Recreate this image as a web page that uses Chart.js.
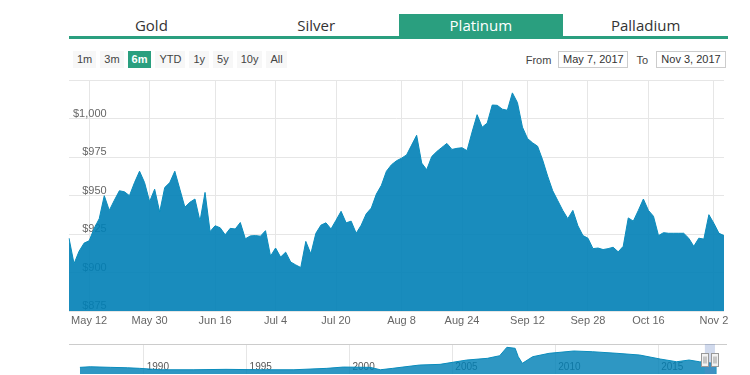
<!DOCTYPE html>
<html>
<head>
<meta charset="utf-8">
<script src="https://cdn.jsdelivr.net/npm/chart.js@4/dist/chart.umd.min.js"></script>
<style>
    body { margin: 0; width: 750px; height: 375px; background: #fff; position: relative; overflow: hidden; font-family: "Liberation Sans", Arial, sans-serif; }
    .tabs { position: absolute; left: 69px; top: 14px; width: 659px; height: 22px; border-bottom: 3px solid #2a9f7f; display: flex; }
    .tab { flex: 1; text-align: center; font: 15px "Open Sans", sans-serif; color: #333; line-height: 23px; }
    .tab.active { background: #2a9f7f; color: #fff; }
    .ranges { position: absolute; left: 73px; top: 51px; display: flex; gap: 4px; }
    .ranges span { display: block; height: 17px; line-height: 17px; padding: 0 4px; font-size: 11px; color: #444; background: #f7f7f7; }
    .ranges span.on { background: #2a9f7f; color: #fff; font-weight: bold; }
    .dates { position: absolute; right: 24px; top: 51px; display: flex; align-items: center; font-size: 11px; color: #444; }
    .dates .box { width: 68px; height: 15px; line-height: 15px; border: 1px solid #ccc; text-align: center; color: #333; }
    #main { position: absolute; left: 0; top: 70px; }
    #nav { position: absolute; left: 0; top: 340px; }
</style>
</head>
<body>
<div class="tabs">
    <div class="tab">Gold</div>
    <div class="tab">Silver</div>
    <div class="tab active">Platinum</div>
    <div class="tab">Palladium</div>
</div>
<div class="ranges">
    <span>1m</span><span>3m</span><span class="on">6m</span><span>YTD</span><span>1y</span><span>5y</span><span>10y</span><span>All</span>
</div>
<div class="dates">
    <span style="margin-right:7px">From</span><div class="box">May 7, 2017</div>
    <span style="margin:0 8px">To</span><div class="box">Nov 3, 2017</div>
</div>
<canvas id="main" width="750" height="270"></canvas>
<canvas id="nav" width="750" height="35"></canvas>
<script>
// trading days (weekdays) shown in the 6m window
const firstDay = new Date(2017, 4, 8);
const dayCount = 131;
const tickLabels = ['May 12', 'May 30', 'Jun 16', 'Jul 4', 'Jul 20', 'Aug 8', 'Aug 24', 'Sep 12', 'Sep 28', 'Oct 16', 'Nov 2'];

// platinum price, USD / oz, one value per trading day
const prices = [
    922.4, 905.8, 913.9, 919.2, 920.7, 928.8, 935.1, 950.1, 940.5, 947.1,
    953.3, 952.6, 950.1, 958.6, 966.0, 958.6, 946.2, 954.3, 939.4, 955.4,
    958.6, 966.0, 954.3, 942.6, 945.8, 947.9, 933.5, 952.2, 926.7, 930.5,
    929.2, 924.6, 928.8, 928.4, 932.6, 922.0, 923.9, 924.1, 923.7, 927.3,
    910.7, 916.0, 910.1, 913.3, 906.9, 905.0, 903.3, 920.3, 912.2, 925.6,
    930.9, 932.4, 928.4, 934.1, 939.9, 932.4, 933.5, 925.6, 930.9, 938.3,
    942.0, 951.1, 956.8, 966.0, 970.2, 972.8, 974.5, 976.6, 983.0, 989.4,
    971.3, 967.0, 975.6, 978.8, 981.5, 984.1, 980.2, 980.9, 981.3, 979.4,
    991.5, 1002.8, 994.7, 997.3, 1009.1, 1008.9, 1006.4, 1005.7, 1017.0, 1010.7,
    994.7, 987.3, 984.5, 982.3, 973.4, 962.8, 953.3, 946.9, 940.5, 935.1,
    940.5, 930.5, 924.1, 922.4, 915.6, 916.0, 915.0, 915.6, 916.5, 913.5,
    917.1, 935.6, 933.5, 940.5, 947.9, 940.5, 936.7, 924.1, 926.0, 925.6,
    925.6, 925.6, 925.6, 922.4, 917.1, 922.4, 921.8, 937.7, 932.0, 925.6,
    924.1
];

// long history shown in the navigator
const navYears = [1986.9, 1987.4, 1988.4, 1989.2, 1989.8, 1990.8, 1992.4, 1994.0, 1995.7, 1997.3,
    1998.9, 1999.7, 2001.0, 2001.5, 2002.1, 2002.6, 2003.4, 2004.4, 2005.7, 2006.7,
    2007.3, 2007.65, 2008.05, 2008.2, 2008.4, 2008.9, 2009.7, 2010.9, 2011.8, 2013.0,
    2014.1, 2015.1, 2015.9, 2016.5, 2017.0, 2017.7, 2017.85];
const navPrices = [579, 627, 579, 546, 497, 384, 384, 416, 384, 384,
    497, 603, 579, 384, 497, 603, 765, 822, 1171, 1309,
    1520, 2202, 2121, 1439, 903, 1439, 1715, 1902, 1845, 1715,
    1577, 1252, 1033, 1171, 1033, 903, 930];
const navTickYears = [1990, 1995, 2000, 2005, 2010, 2015];
const navWindow = [2017.27, 2017.76];

const blue = 'rgba(0, 128, 182, 0.9)';
const navBlue = 'rgba(0, 128, 182, 0.82)';
const blueLine = '#0a8cbc';
const gridColor = '#e6e6e6';
const font = { family: '"Liberation Sans", Arial, sans-serif', size: 11 };

const months = ['Jan', 'Feb', 'Mar', 'Apr', 'May', 'Jun', 'Jul', 'Aug', 'Sep', 'Oct', 'Nov', 'Dec'];
const categories = [];
const d = new Date(firstDay);
while (categories.length < dayCount) {
    if (d.getDay() !== 0 && d.getDay() !== 6) {
        categories.push(months[d.getMonth()] + ' ' + d.getDate());
    }
    d.setDate(d.getDate() + 1);
}

new Chart(document.getElementById('main'), {
    type: 'line',
    data: {
        labels: categories,
        datasets: [{
            data: prices,
            fill: 'start',
            backgroundColor: blue,
            borderColor: blueLine,
            borderWidth: 1,
            pointRadius: 0,
            tension: 0
        }]
    },
    options: {
        responsive: false,
        animation: false,
        layout: { padding: { left: 69, right: 26, top: 7, bottom: 0 } },
        plugins: { legend: { display: false }, tooltip: { enabled: false } },
        scales: {
            x: {
                afterBuildTicks: scale => {
                    scale.ticks = scale.ticks.filter(t => tickLabels.includes(categories[t.value]));
                },
                afterFit: scale => { scale.height = 29; },
                grid: { color: gridColor, drawTicks: false },
                border: { display: false },
                ticks: { autoSkip: false, maxRotation: 0, padding: 3, color: '#666', font: font }
            },
            y: {
                min: 875,
                max: 1025,
                afterFit: scale => { scale.width = 0; },
                grid: { color: gridColor, drawTicks: false },
                border: { display: false },
                ticks: {
                    stepSize: 25,
                    mirror: true,
                    crossAlign: 'far',
                    padding: 4,
                    labelOffset: -5,
                    color: '#666',
                    font: font,
                    callback: v => v === 1025 ? '' : '$' + v.toLocaleString('en-US')
                }
            }
        }
    }
});

// year labels sit under the navigator area, handles and outline on top
const navExtras = {
    id: 'navExtras',
    beforeDatasetsDraw(chart) {
        const ctx = chart.ctx;
        const x = chart.scales.x;
        ctx.save();
        ctx.font = '10px ' + font.family;
        ctx.fillStyle = '#555';
        ctx.textAlign = 'left';
        ctx.textBaseline = 'middle';
        navTickYears.forEach(yr => {
            ctx.fillText(String(yr), x.getPixelForValue(yr) + 3, chart.chartArea.bottom - 7);
        });
        ctx.restore();
    },
    afterDraw(chart) {
        const ctx = chart.ctx;
        const area = chart.chartArea;
        const x = chart.scales.x;
        ctx.save();
        ctx.strokeStyle = '#cccccc';
        ctx.lineWidth = 1;
        ctx.beginPath();
        ctx.moveTo(area.left, area.top + 0.5);
        ctx.lineTo(area.right + 3, area.top + 0.5);
        ctx.stroke();

        const x1 = x.getPixelForValue(navWindow[0]);
        const x2 = x.getPixelForValue(navWindow[1]);
        ctx.fillStyle = 'rgba(102, 133, 194, 0.3)';
        ctx.fillRect(x1, area.top, x2 - x1, area.bottom - area.top);

        [x1, x2].forEach(px => {
            const gx = Math.round(px - 3.5) + 0.5;
            const gy = 13.5;
            ctx.fillStyle = '#f2f2f2';
            ctx.strokeStyle = '#999999';
            ctx.fillRect(gx, gy, 7, 13);
            ctx.strokeRect(gx, gy, 7, 13);
            ctx.beginPath();
            ctx.moveTo(gx + 2.5, gy + 3);
            ctx.lineTo(gx + 2.5, gy + 10);
            ctx.moveTo(gx + 4.5, gy + 3);
            ctx.lineTo(gx + 4.5, gy + 10);
            ctx.stroke();
        });
        ctx.restore();
    }
};

new Chart(document.getElementById('nav'), {
    type: 'line',
    data: {
        datasets: [{
            data: navYears.map((yr, i) => ({ x: yr, y: navPrices[i] })),
            fill: 'start',
            backgroundColor: navBlue,
            borderColor: blueLine,
            borderWidth: 1,
            pointRadius: 0,
            tension: 0
        }]
    },
    options: {
        responsive: false,
        animation: false,
        layout: { padding: { left: 69, right: 26, top: 4, bottom: 1 } },
        plugins: { legend: { display: false }, tooltip: { enabled: false } },
        scales: {
            x: {
                type: 'linear',
                min: 1986.37,
                max: 2018.2,
                afterBuildTicks: scale => {
                    scale.ticks = navTickYears.map(v => ({ value: v }));
                },
                afterFit: scale => { scale.height = 0; },
                grid: { color: gridColor, drawTicks: false },
                border: { display: false },
                ticks: { display: false }
            },
            y: { display: false, min: 40, max: 2470 }
        }
    },
    plugins: [navExtras]
});
</script>
</body>
</html>
